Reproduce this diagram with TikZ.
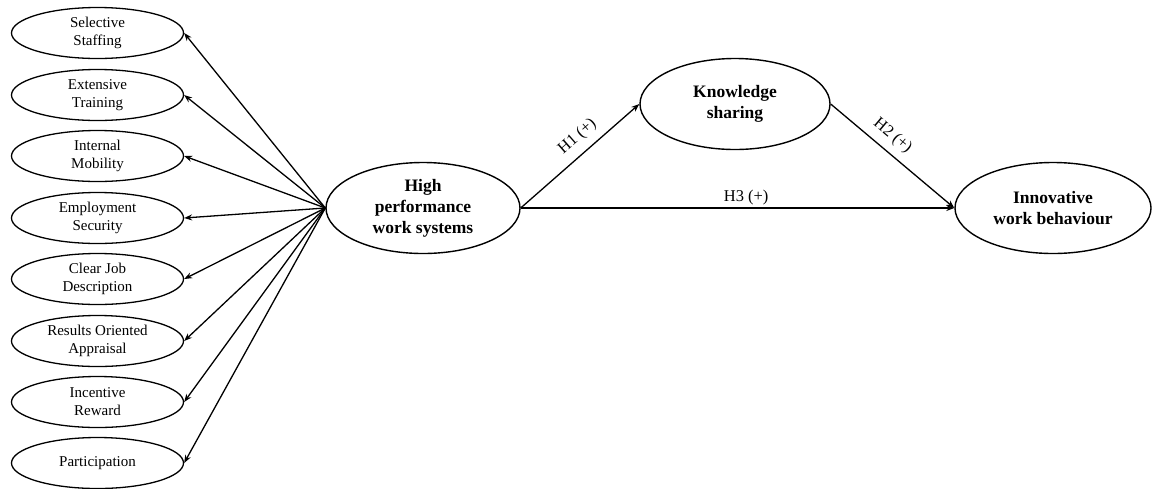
\documentclass[tikz,border=0pt]{standalone}
\usepackage{fontspec}
\setmainfont{Liberation Serif}
\usetikzlibrary{shapes.geometric,arrows.meta}
\begin{document}
\begin{tikzpicture}[x=1pt,y=-1pt,
  small/.style={draw,ellipse,line width=1.3pt,inner sep=0pt,minimum width=172pt,minimum height=51pt,align=center,font=\fontsize{15}{18}\selectfont},
  big/.style={draw,ellipse,line width=1.4pt,inner sep=0pt,minimum width=194pt,minimum height=91pt,align=center,font=\fontsize{17.5}{21}\selectfont\bfseries},
  conn/.style={line width=1.3pt,-{Stealth[length=8pt,width=6pt]}},
  lab/.style={font=\fontsize{16.5}{19}\selectfont}]
\useasboundingbox (0,0) rectangle (1153,488);
\node[small] (s1) at (97.5,33) {Selective\\Staffing};
\node[small] (s2) at (97.5,95) {Extensive\\Training};
\node[small] (s3) at (97.5,156) {Internal\\Mobility};
\node[small] (s4) at (97.5,218) {Employment\\Security};
\node[small] (s5) at (97.5,279) {Clear Job\\Description};
\node[small] (s6) at (97.5,341) {Results Oriented\\Appraisal};
\node[small] (s7) at (97.5,402) {Incentive\\Reward};
\node[small] (s8) at (97.5,463) {Participation};
\node[big] (hp) at (423,208) {High\\performance\\work systems};
\node[big, minimum width=190pt] (ks) at (735,104) {Knowledge\\sharing};
\node[big, minimum width=196pt] (iw) at (1053,208) {Innovative\\work behaviour};
\foreach \i in {1,...,8} \draw[conn] (hp.west) -- (s\i.east);
\draw[conn] (hp.east) -- node[lab,sloped,above=5pt,pos=0.57]{H1 (+)} (ks.west);
\draw[conn] (ks.east) -- node[lab,sloped,above=4pt,pos=0.42]{H2 (+)} (iw.west);
\draw[conn] (hp.east) -- node[lab,above,pos=0.52,yshift=-1pt]{H3 (+)} (iw.west);
\end{tikzpicture}
\end{document}
